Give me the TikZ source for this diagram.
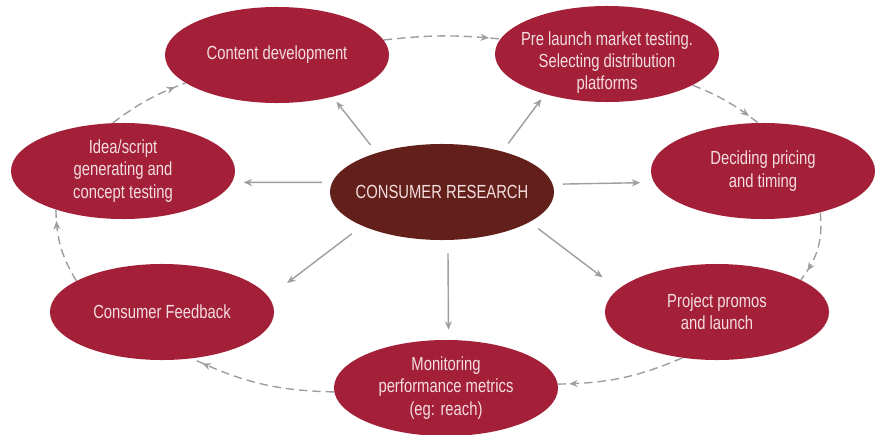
\documentclass[tikz,border=0pt]{standalone}
\usepackage{fontspec}
\setmainfont{Liberation Sans}[FakeStretch=0.78]
\usetikzlibrary{shapes.geometric,arrows.meta,decorations.markings}

\definecolor{berry}{HTML}{A32038}
\definecolor{cocoa}{HTML}{63201A}
\definecolor{blush}{HTML}{F3DDE0}
\definecolor{wire}{HTML}{9E9EA2}

\tikzset{
  bubble/.style={ellipse, fill=berry, minimum width=5.6cm, minimum height=2.4cm, inner sep=0pt},
  caption/.style={text=blush, align=center, inner sep=0pt, font=\fontsize{13.5}{15.8}\selectfont},
  spoke/.style={color=wire, line width=1pt, -{Stealth[length=6pt,width=5pt]}},
  loopline/.style={color=wire, line width=1pt, dash pattern=on 6pt off 3.5pt,
    postaction={decorate},
    decoration={markings, mark=at position -8pt with {\arrow{Stealth[length=6pt,width=5pt]}}}}
}

\begin{document}
\begin{tikzpicture}[x=0.025cm, y=-0.025cm]
    \useasboundingbox (0,0) rectangle (880,434);

    % Outer steps
    \node[bubble] (cd) at (277,55) {};
    \node[caption] (cd-t) at (cd) {Content development};

    \node[bubble] (pl) at (607,54) {};
    \node[caption, yshift=-6pt] (pl-t) at (pl) {Pre launch market testing.\\ Selecting distribution\\ platforms};

    \node[bubble] (dc) at (763,171) {};
    \node[caption] (dc-t) at (dc) {Deciding pricing\\ and timing};

    \node[bubble] (pp) at (717,312) {};
    \node[caption] (pp-t) at (pp) {Project promos\\ and launch};

    \node[bubble] (mn) at (446,388) {};
    \node[caption] (mn-t) at (mn) {Monitoring\\ performance metrics\\ (eg: reach)};

    \node[bubble] (cf) at (162,312) {};
    \node[caption] (cf-t) at (cf) {Consumer Feedback};

    \node[bubble] (is) at (123,171) {};
    \node[caption] (is-t) at (is) {Idea/script\\ generating and\\ concept testing};

    % Centre
    \node[bubble, fill=cocoa] (cr) at (442,192) {};
    \node[caption] (cr-t) at (cr) {CONSUMER RESEARCH};

    % Spokes
    \draw[spoke, shorten <=7pt, shorten >=4.3pt] (cr.149.4) -- (cd.-37.9);
    \draw[spoke, shorten <=7pt, shorten >=4.3pt] (cr.34.7) -- (pl.213.8);
    \draw[spoke, shorten <=7.1pt, shorten >=9.7pt] (cr.4.7) -- (dc.186.3);
    \draw[spoke, shorten <=7.5pt, shorten >=13.9pt] (cr.-19.6) -- (pp.167.4);
    \draw[spoke, shorten <=9.2pt, shorten >=7.1pt] (cr.-83) -- (mn.87.6);
    \draw[spoke, shorten <=9.2pt, shorten >=16.4pt] (cr.203.5) -- (cf.8.1);
    \draw[spoke, shorten <=7.1pt, shorten >=8.2pt] (cr.175.3) -- (is.-6.3);

    % Cycle
    \draw[loopline] (cd.8) to[bend left=6] (pl.172);
    \draw[loopline] (pl.-20) to[bend left=8] (dc.96);
    \draw[loopline] (dc.-36) to[bend left=22] (pp.21);
    \draw[loopline] (pp.233) to[bend left=11] (mn.2);
    \draw[loopline] (mn.182.6) to[bend left=12] (cf.-57);
    \draw[loopline] (cf.160) to[bend left=15] (is.210);
    \draw[loopline] (is.102) to[bend left=8] (cd.197);
\end{tikzpicture}
\end{document}
